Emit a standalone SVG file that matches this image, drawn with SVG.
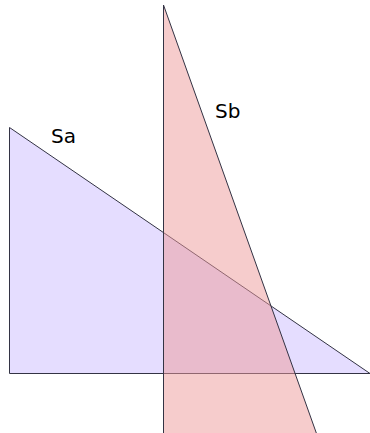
<svg xmlns="http://www.w3.org/2000/svg" width="370" height="433" viewBox="0 0 370 433">
<style>
.tri{stroke:#333344;stroke-width:1;stroke-linejoin:miter}
.sa{fill:#ccbbff;fill-opacity:0.5}
.sb{fill:#ee9999;fill-opacity:0.5}
.lbl{font-family:"DejaVu Sans",sans-serif;font-size:20px;fill:#000}
</style>
<rect width="370" height="433" fill="#fff"/>
<g id="Sa">
<polygon class="tri sa" points="9.5,127.5 9.5,373.5 370,373.5"/>
<text class="lbl" x="51" y="143">Sa</text>
</g>
<g id="Sb">
<polygon class="tri sb" points="163.5,5 163.5,445 320.6,445"/>
<text class="lbl" x="215" y="118">Sb</text>
</g>
</svg>
